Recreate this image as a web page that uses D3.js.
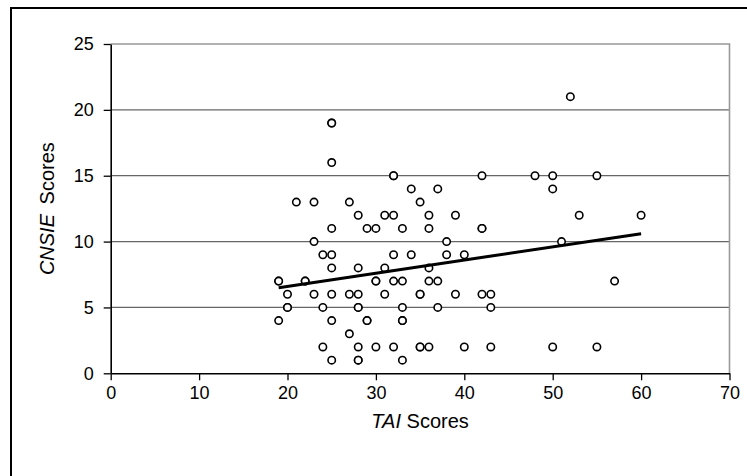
<!DOCTYPE html>
<html>
<head>
<meta charset="utf-8">
<script src="https://cdnjs.cloudflare.com/ajax/libs/d3/7.8.5/d3.min.js"></script>
<style>
  body { margin: 0; background: #fff; }
  svg { display: block; font-family: "Liberation Sans", Arial, sans-serif; }
</style>
</head>
<body>
<svg id="chart"></svg>
<script>
// TAI score (x) and CNSIE score (y) for each participant
const taiScores = [
  19, 19, 19,
  20, 20, 20,
  21,
  22, 22,
  23, 23, 23,
  24, 24, 24,
  25, 25, 25, 25, 25, 25, 25, 25, 25,
  27, 27, 27,
  28, 28, 28, 28, 28, 28, 28, 28,
  29, 29, 29,
  30, 30, 30, 30,
  31, 31, 31,
  32, 32, 32, 32, 32, 32,
  33, 33, 33, 33, 33, 33,
  34, 34,
  35, 35, 35, 35, 35,
  36, 36, 36, 36, 36,
  37, 37, 37,
  38, 38,
  39, 39,
  40, 40,
  42, 42, 42, 42,
  43, 43, 43,
  48,
  50, 50, 50,
  51,
  52,
  53,
  55, 55,
  57,
  60
];
const cnsieScores = [
  7, 7, 4,
  6, 5, 5,
  13,
  7, 7,
  13, 10, 6,
  9, 5, 2,
  19, 19, 16, 11, 9, 8, 6, 4, 1,
  13, 6, 3,
  12, 8, 6, 5, 5, 2, 1, 1,
  11, 4, 4,
  11, 7, 7, 2,
  12, 8, 6,
  15, 15, 12, 9, 7, 2,
  11, 7, 5, 4, 4, 1,
  14, 9,
  13, 6, 6, 2, 2,
  12, 11, 8, 7, 2,
  14, 7, 5,
  10, 9,
  12, 6,
  9, 2,
  15, 11, 11, 6,
  6, 5, 2,
  15,
  15, 14, 2,
  10,
  21,
  12,
  15, 2,
  7,
  12
];
// fitted line end points as drawn
const trendX = [19, 60];
const trendY = [6.5, 10.6];

const xTicks = [0, 10, 20, 30, 40, 50, 60, 70];
const yTicks = [0, 5, 10, 15, 20, 25];

const points = taiScores.map((x, i) => ({ x: x, y: cnsieScores[i] }));
const trend = trendX.map((x, i) => ({ x: x, y: trendY[i] }));

const width = 747, height = 476;
const plot = { left: 110.7, right: 729.5, top: 44, bottom: 373.3 };

const svg = d3.select('#chart')
    .attr('width', width)
    .attr('height', height);

// outer frame (runs off the right and bottom of the picture)
svg.append('rect')
    .attr('x', 11).attr('y', 8)
    .attr('width', 900).attr('height', 700)
    .attr('fill', 'none')
    .attr('stroke', '#000')
    .attr('stroke-width', 2);

const xScale = d3.scaleLinear().domain([0, 70]).range([plot.left, plot.right]);
const yScale = d3.scaleLinear().domain([0, 25]).range([plot.bottom, plot.top]);

// horizontal gridlines
svg.append('g')
  .selectAll('line')
  .data(yTicks.filter(d => d > 0 && d < 25))
  .join('line')
    .attr('x1', plot.left).attr('x2', plot.right)
    .attr('y1', d => yScale(d)).attr('y2', d => yScale(d))
    .attr('stroke', '#666')
    .attr('stroke-width', 1.2);

// top and right edges of the plot area
svg.append('path')
    .attr('d', `M${plot.left},${yScale(25)}H${plot.right}V${plot.bottom}`)
    .attr('fill', 'none')
    .attr('stroke', '#999')
    .attr('stroke-width', 1.6);

const xAxis = d3.axisBottom(xScale)
    .tickValues(xTicks)
    .tickSize(7)
    .tickSizeOuter(0)
    .tickPadding(6);

const yAxis = d3.axisLeft(yScale)
    .tickValues(yTicks)
    .tickSize(7)
    .tickSizeOuter(0)
    .tickPadding(10);

const xAxisG = svg.append('g')
    .attr('transform', `translate(0,${plot.bottom})`)
    .call(xAxis);

const yAxisG = svg.append('g')
    .attr('transform', `translate(${plot.left},0)`)
    .call(yAxis);

[xAxisG, yAxisG].forEach(g => {
  g.select('.domain').attr('stroke', '#000').attr('stroke-width', 1.6);
  g.selectAll('.tick line').attr('stroke', '#000').attr('stroke-width', 1.3);
  g.selectAll('.tick text')
      .attr('fill', '#000')
      .style('font-size', '18px');
});

// axis titles
const xTitle = svg.append('text')
    .attr('x', (plot.left + plot.right) / 2)
    .attr('y', 428)
    .attr('text-anchor', 'middle')
    .style('font-size', '20px');
xTitle.append('tspan').style('font-style', 'italic').text('TAI');
xTitle.append('tspan').text(' Scores');

const yTitle = svg.append('text')
    .attr('transform', `translate(54,${(plot.top + plot.bottom) / 2}) rotate(-90)`)
    .attr('text-anchor', 'middle')
    .style('font-size', '20px');
yTitle.append('tspan').style('font-style', 'italic').text('CNSIE');
yTitle.append('tspan').attr('dx', 4).text(' Scores');

// scatter points
svg.append('g')
  .selectAll('circle')
  .data(points)
  .join('circle')
    .attr('cx', d => xScale(d.x))
    .attr('cy', d => yScale(d.y))
    .attr('r', 3.7)
    .attr('fill', '#fff')
    .attr('stroke', '#000')
    .attr('stroke-width', 1.6);

// trend line
const line = d3.line()
    .x(d => xScale(d.x))
    .y(d => yScale(d.y));

svg.append('path')
    .datum(trend)
    .attr('d', line)
    .attr('fill', 'none')
    .attr('stroke', '#000')
    .attr('stroke-width', 3);
</script>
</body>
</html>
